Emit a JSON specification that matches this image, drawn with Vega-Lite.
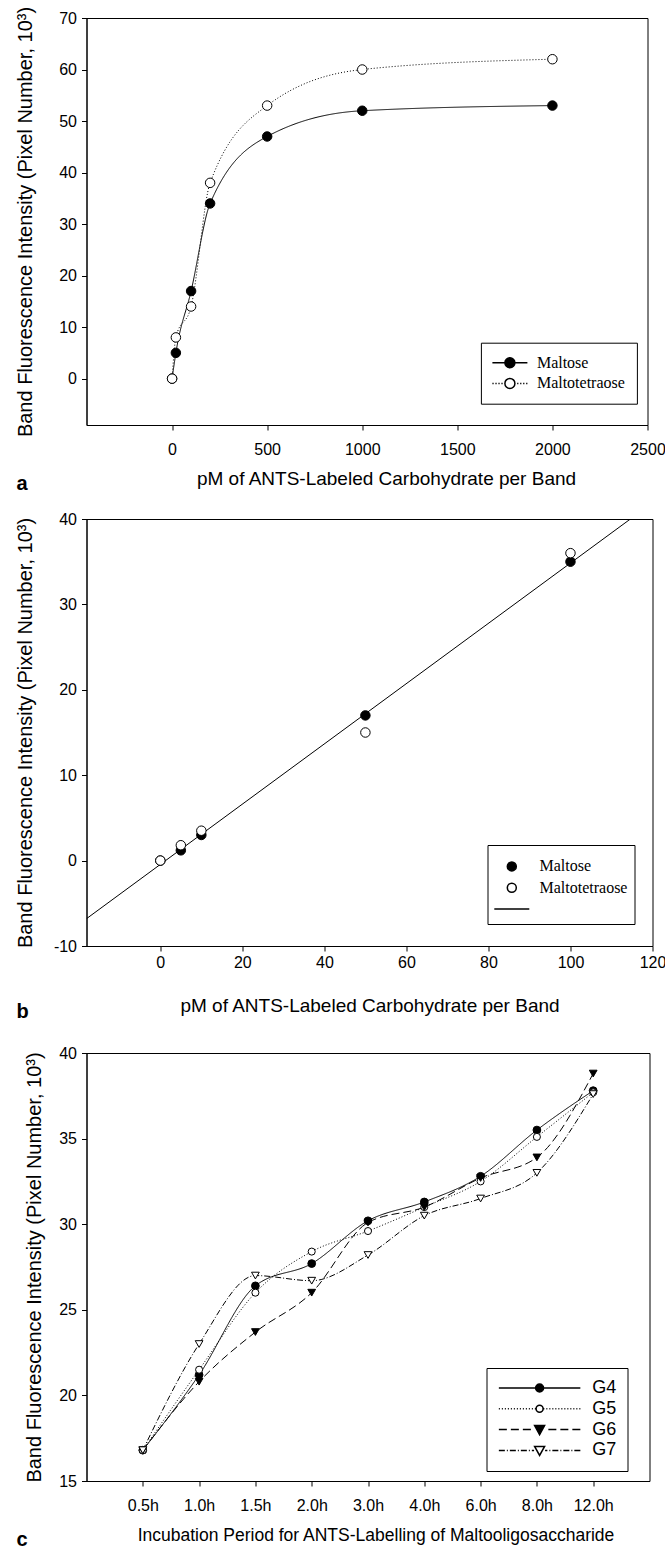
{
  "$schema": "https://vega.github.io/schema/vega-lite/v6.json",
  "background": "white",
  "padding": {"left": 13.5, "top": 5, "right": 0, "bottom": 0},
  "datasets": {
    "a": [
      {"series": "Maltose", "pm": 0, "val": 0},
      {"series": "Maltose", "pm": 20, "val": 5},
      {"series": "Maltose", "pm": 100, "val": 17},
      {"series": "Maltose", "pm": 200, "val": 34},
      {"series": "Maltose", "pm": 500, "val": 47},
      {"series": "Maltose", "pm": 1000, "val": 52},
      {"series": "Maltose", "pm": 2000, "val": 53},
      {"series": "Maltotetraose", "pm": 0, "val": 0},
      {"series": "Maltotetraose", "pm": 20, "val": 8},
      {"series": "Maltotetraose", "pm": 100, "val": 14},
      {"series": "Maltotetraose", "pm": 200, "val": 38},
      {"series": "Maltotetraose", "pm": 500, "val": 53},
      {"series": "Maltotetraose", "pm": 1000, "val": 60},
      {"series": "Maltotetraose", "pm": 2000, "val": 62}
    ],
    "b": [
      {"series": "Maltose", "pm": 0, "val": 0},
      {"series": "Maltose", "pm": 5, "val": 1.2},
      {"series": "Maltose", "pm": 10, "val": 3},
      {"series": "Maltose", "pm": 50, "val": 17},
      {"series": "Maltose", "pm": 100, "val": 35},
      {"series": "Maltotetraose", "pm": 0, "val": 0},
      {"series": "Maltotetraose", "pm": 5, "val": 1.8},
      {"series": "Maltotetraose", "pm": 10, "val": 3.5},
      {"series": "Maltotetraose", "pm": 50, "val": 15},
      {"series": "Maltotetraose", "pm": 100, "val": 36}
    ],
    "bfit": [
      {"pm": -18, "val": -6.8},
      {"pm": 120, "val": 41.9}
    ],
    "c": [
      {"series": "G4", "time": "0.5h", "val": 16.8},
      {"series": "G4", "time": "1.0h", "val": 21.2},
      {"series": "G4", "time": "1.5h", "val": 26.4},
      {"series": "G4", "time": "2.0h", "val": 27.7},
      {"series": "G4", "time": "3.0h", "val": 30.2},
      {"series": "G4", "time": "4.0h", "val": 31.3},
      {"series": "G4", "time": "6.0h", "val": 32.8},
      {"series": "G4", "time": "8.0h", "val": 35.5},
      {"series": "G4", "time": "12.0h", "val": 37.8},
      {"series": "G5", "time": "0.5h", "val": 16.8},
      {"series": "G5", "time": "1.0h", "val": 21.5},
      {"series": "G5", "time": "1.5h", "val": 26.0},
      {"series": "G5", "time": "2.0h", "val": 28.4},
      {"series": "G5", "time": "3.0h", "val": 29.6},
      {"series": "G5", "time": "4.0h", "val": 31.0},
      {"series": "G5", "time": "6.0h", "val": 32.5},
      {"series": "G5", "time": "8.0h", "val": 35.1},
      {"series": "G5", "time": "12.0h", "val": 37.7},
      {"series": "G6", "time": "0.5h", "val": 16.8},
      {"series": "G6", "time": "1.0h", "val": 20.8},
      {"series": "G6", "time": "1.5h", "val": 23.7},
      {"series": "G6", "time": "2.0h", "val": 26.0},
      {"series": "G6", "time": "3.0h", "val": 30.1},
      {"series": "G6", "time": "4.0h", "val": 31.0},
      {"series": "G6", "time": "6.0h", "val": 32.7},
      {"series": "G6", "time": "8.0h", "val": 33.9},
      {"series": "G6", "time": "12.0h", "val": 38.8},
      {"series": "G7", "time": "0.5h", "val": 16.8},
      {"series": "G7", "time": "1.0h", "val": 23.0},
      {"series": "G7", "time": "1.5h", "val": 27.0},
      {"series": "G7", "time": "2.0h", "val": 26.7},
      {"series": "G7", "time": "3.0h", "val": 28.2},
      {"series": "G7", "time": "4.0h", "val": 30.5},
      {"series": "G7", "time": "6.0h", "val": 31.5},
      {"series": "G7", "time": "8.0h", "val": 33.0},
      {"series": "G7", "time": "12.0h", "val": 37.6}
    ]
  },
  "config": {
    "font": "Liberation Sans",
    "view": {"stroke": "black", "strokeWidth": 1},
    "axis": {
      "grid": false, "domainColor": "black", "domainWidth": 1, "tickColor": "black", "tickWidth": 1, "tickSize": 5,
      "labelColor": "black", "titleColor": "black", "labelFont": "Liberation Sans", "titleFont": "Liberation Sans",
      "labelFontSize": 16, "titleFontSize": 19, "titleFontWeight": "normal", "labelFlush": false, "labelOverlap": false
    },
    "title": {"color": "black"}
  },
  "spacing": 21,
  "resolve": {
    "scale": {"shape": "independent", "fill": "independent", "x": "independent", "y": "independent"},
    "legend": {"shape": "independent", "fill": "independent"}
  },
  "vconcat": [
    {
      "bounds": "flush",
      "spacing": 94,
      "resolve": {
        "scale": {"shape": "independent", "fill": "independent", "x": "independent", "y": "independent"},
        "legend": {"shape": "independent", "fill": "independent"}
      },
      "vconcat": [
        {
          "width": 561,
          "height": 407,
          "title": {"text": "a", "orient": "bottom", "anchor": "start", "frame": "group", "dx": -70, "font": "Liberation Sans", "fontSize": 20, "fontWeight": "bold", "offset": -14},
          "data": {"name": "a"},
          "encoding": {
            "x": {"field": "pm", "type": "quantitative", "scale": {"domain": [-450, 2500], "nice": false, "zero": false},
              "axis": {"values": [0, 500, 1000, 1500, 2000, 2500], "format": "d", "title": "pM of ANTS-Labeled Carbohydrate per Band", "titleX": 299.5, "labelPadding": 11.6, "titlePadding": 11.5}},
            "y": {"field": "val", "type": "quantitative", "scale": {"domain": [-9, 70], "nice": false, "zero": false},
              "axis": {"values": [0, 10, 20, 30, 40, 50, 60, 70], "format": "d", "title": "Band Fluorescence Intensity (Pixel Number, 10³)", "titleFontSize": 20, "titleX": -51.5, "labelPadding": 5}}
          },
          "layer": [
            {
              "mark": {"type": "line", "color": "black", "strokeWidth": 1, "interpolate": "monotone"},
              "encoding": {
                "detail": {"field": "series", "type": "nominal"},
                "strokeDash": {"condition": {"test": "datum.series === 'Maltotetraose'", "value": [1, 2]}, "value": [1, 0]}
              }
            },
            {
              "transform": [{"filter": "datum.series === 'Maltose'"}],
              "mark": {"type": "point", "filled": true, "shape": "circle", "size": 90, "fill": "black", "stroke": "black", "strokeWidth": 1, "opacity": 1},
              "encoding": {}
            },
            {
              "transform": [{"filter": "datum.series === 'Maltotetraose'"}],
              "mark": {"type": "point", "filled": true, "shape": "circle", "size": 90, "fill": "white", "stroke": "black", "strokeWidth": 1, "opacity": 1},
              "encoding": {}
            },
            {
              "transform": [{"filter": "false"}],
              "mark": {"type": "point", "filled": true, "size": 100, "stroke": "black", "strokeWidth": 1, "opacity": 1},
              "encoding": {
                "fill": {"field": "series", "type": "nominal", "scale": {"domain": ["Maltose", "Maltotetraose"], "range": ["black", "white"]}, "legend": null},
                "shape": {"field": "series", "type": "nominal",
                  "scale": {"domain": ["Maltose", "Maltotetraose"], "range": [
                    "M-3.5,0H3.5M1,0A1,1,0,1,1,-1,0A1,1,0,1,1,1,0Z",
                    "M-3.5,0h0.25M-2.9,0h0.25M-2.3,0h0.25M-1.7,0h0.25M1.45,0h0.25M2.05,0h0.25M2.65,0h0.25M3.25,0h0.25M1,0A1,1,0,1,1,-1,0A1,1,0,1,1,1,0Z"
                  ]},
                  "legend": {
                    "title": null, "orient": "none", "legendX": 394.4, "legendY": 324.7, "padding": 12,
                    "strokeColor": "black", "fillColor": "white", "labelFont": "Liberation Serif", "labelFontSize": 16, "labelColor": "black",
                    "symbolSize": 100, "symbolOffset": 9, "labelOffset": 19, "rowPadding": 4.7
                  }}
              }
            }
          ]
        },
        {
          "width": 566,
          "height": 427,
          "title": {"text": "b", "orient": "bottom", "anchor": "start", "frame": "group", "dx": -70, "font": "Liberation Sans", "fontSize": 20, "fontWeight": "bold", "offset": -14},
          "encoding": {
            "x": {"field": "pm", "type": "quantitative", "scale": {"domain": [-18, 120], "nice": false, "zero": false},
              "axis": {"values": [0, 20, 40, 60, 80, 100, 120], "format": "d", "title": "pM of ANTS-Labeled Carbohydrate per Band", "labelPadding": 3, "titlePadding": 26.8}},
            "y": {"field": "val", "type": "quantitative", "scale": {"domain": [-10, 40], "nice": false, "zero": false},
              "axis": {"values": [-10, 0, 10, 20, 30, 40], "labelExpr": "'' + datum.value", "title": "Band Fluorescence Intensity (Pixel Number, 10³)", "titleFontSize": 20, "titleX": -51.5, "labelPadding": 5}}
          },
          "layer": [
            {
              "data": {"name": "bfit"},
              "mark": {"type": "line", "color": "black", "strokeWidth": 1, "clip": true},
              "encoding": {}
            },
            {
              "data": {"name": "b"},
              "transform": [{"filter": "datum.series === 'Maltose'"}],
              "mark": {"type": "point", "filled": true, "shape": "circle", "size": 90, "fill": "black", "stroke": "black", "strokeWidth": 1, "opacity": 1},
              "encoding": {}
            },
            {
              "data": {"name": "b"},
              "transform": [{"filter": "datum.series === 'Maltotetraose'"}],
              "mark": {"type": "point", "filled": true, "shape": "circle", "size": 90, "fill": "white", "stroke": "black", "strokeWidth": 1, "opacity": 1},
              "encoding": {}
            },
            {
              "data": {"name": "b"},
              "transform": [{"filter": "false"}],
              "mark": {"type": "point", "filled": true, "size": 100, "stroke": "black", "strokeWidth": 1, "opacity": 1},
              "encoding": {
                "fill": {"field": "series", "type": "nominal", "scale": {"domain": ["Maltose", "Maltotetraose", "fit"], "range": ["black", "white", "white"]}, "legend": null},
                "shape": {"field": "series", "type": "nominal",
                  "scale": {"domain": ["Maltose", "Maltotetraose", "fit"], "range": [
                    "M0.9,0A0.9,0.9,0,1,1,-0.9,0A0.9,0.9,0,1,1,0.9,0Z",
                    "M0.9,0A0.9,0.9,0,1,1,-0.9,0A0.9,0.9,0,1,1,0.9,0Z",
                    "M-3.5,0H3.5"
                  ]},
                  "legend": {
                    "title": " ", "titleFontSize": 4, "titlePadding": 2.4,
                    "orient": "none", "legendX": 401, "legendY": 326, "padding": 7,
                    "strokeColor": "black", "fillColor": "white", "labelFont": "Liberation Serif", "labelFontSize": 16, "labelColor": "black",
                    "labelExpr": "datum.value === 'fit' ? '' : datum.value",
                    "symbolSize": 100, "symbolOffset": 9.3, "labelOffset": 19.7, "rowPadding": 5.3
                  }}
              }
            }
          ]
        }
      ]
    },
    {
      "width": 563,
      "height": 428,
      "title": {"text": "c", "orient": "bottom", "anchor": "start", "frame": "group", "dx": -70, "font": "Liberation Sans", "fontSize": 20, "fontWeight": "bold", "offset": -14},
      "data": {"name": "c"},
      "encoding": {
        "x": {"field": "time", "type": "ordinal", "sort": ["0.5h", "1.0h", "1.5h", "2.0h", "3.0h", "4.0h", "6.0h", "8.0h", "12.0h"],
          "scale": {"type": "point", "padding": 1},
          "axis": {"labelAngle": 0, "title": "Incubation Period for ANTS-Labelling of Maltooligosaccharide", "titleX": 289, "titleFontSize": 17.5, "labelPadding": 11.3, "titlePadding": 13.4}},
        "y": {"field": "val", "type": "quantitative", "scale": {"domain": [15, 40], "nice": false, "zero": false},
          "axis": {"values": [15, 20, 25, 30, 35, 40], "format": "d", "title": "Band Fluorescence Intensity (Pixel Number, 10³)", "titleFontSize": 20, "titleX": -42, "labelPadding": 5}}
      },
      "layer": [
        {
          "mark": {"type": "line", "color": "black", "strokeWidth": 1, "interpolate": "monotone"},
          "encoding": {
            "detail": {"field": "series", "type": "nominal"},
            "strokeDash": {"condition": [
              {"test": "datum.series === 'G5'", "value": [1, 2]},
              {"test": "datum.series === 'G6'", "value": [8, 4]},
              {"test": "datum.series === 'G7'", "value": [6, 2, 1, 2]}
            ], "value": [1, 0]}
          }
        },
        {
          "transform": [{"filter": "datum.series === 'G4'"}],
          "mark": {"type": "point", "filled": true, "shape": "circle", "size": 60, "fill": "black", "stroke": "black", "strokeWidth": 1, "opacity": 1},
          "encoding": {}
        },
        {
          "transform": [{"filter": "datum.series === 'G5'"}],
          "mark": {"type": "point", "filled": true, "shape": "circle", "size": 50, "fill": "white", "stroke": "black", "strokeWidth": 1, "opacity": 1},
          "encoding": {}
        },
        {
          "transform": [{"filter": "datum.series === 'G6'"}],
          "mark": {"type": "point", "filled": true, "shape": "triangle-down", "size": 60, "fill": "black", "stroke": "black", "strokeWidth": 1, "opacity": 1},
          "encoding": {}
        },
        {
          "transform": [{"filter": "datum.series === 'G7'"}],
          "mark": {"type": "point", "filled": true, "shape": "triangle-down", "size": 60, "fill": "white", "stroke": "black", "strokeWidth": 1, "opacity": 1},
          "encoding": {}
        },
        {
          "transform": [{"filter": "false"}],
          "mark": {"type": "point", "filled": true, "size": 100, "stroke": "black", "strokeWidth": 1, "opacity": 1},
          "encoding": {
            "fill": {"field": "series", "type": "nominal", "scale": {"domain": ["G4", "G5", "G6", "G7"], "range": ["black", "white", "black", "white"]}, "legend": null},
            "shape": {"field": "series", "type": "nominal",
              "scale": {"domain": ["G4", "G5", "G6", "G7"], "range": [
                "M-8.15,0H8.15M0.8,0A0.8,0.8,0,1,1,-0.8,0A0.8,0.8,0,1,1,0.8,0Z",
                "M-8.15,0h0.2M-7.55,0h0.2M-6.95,0h0.2M-6.35,0h0.2M-5.75,0h0.2M-5.15,0h0.2M-4.55,0h0.2M-3.95,0h0.2M-3.35,0h0.2M-2.75,0h0.2M-2.15,0h0.2M-1.55,0h0.2M-0.95,0h0.2M0.75,0h0.2M1.35,0h0.2M1.95,0h0.2M2.55,0h0.2M3.15,0h0.2M3.75,0h0.2M4.35,0h0.2M4.95,0h0.2M5.55,0h0.2M6.15,0h0.2M6.75,0h0.2M7.35,0h0.2M7.95,0h0.2M0.7,0A0.7,0.7,0,1,1,-0.7,0A0.7,0.7,0,1,1,0.7,0Z",
                "M-8.15,0H-6.55M-5.75,0H-4.15M-3.35,0H-1.75M1.75,0H3.35M4.15,0H5.75M6.55,0H8.15M-1,-0.8L1,-0.8L0,1Z",
                "M-8.15,0H-6.95M-6.55,0H-6.35M-5.95,0H-4.75M-4.35,0H-4.15M-3.75,0H-2.55M-2.15,0H-1.95M-1.55,0H-1.1M1.1,0H1.55M1.95,0H2.15M2.55,0H3.75M4.15,0H4.35M4.75,0H5.95M6.35,0H6.55M6.95,0H8.15M-1,-0.8L1,-0.8L0,1Z"
              ]},
              "legend": {
                "title": null, "orient": "none", "legendX": 400, "legendY": 315, "padding": 11,
                "strokeColor": "black", "fillColor": "white", "labelFont": "Liberation Sans", "labelFontSize": 18, "labelColor": "black",
                "symbolSize": 100, "symbolOffset": 33.1, "labelOffset": 43.7, "rowPadding": 2.8
              }}
          }
        }
      ]
    }
  ]
}
